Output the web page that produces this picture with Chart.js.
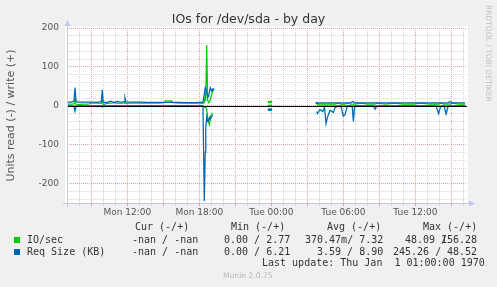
<!DOCTYPE html>
<html>
<head>
<meta charset="utf-8">
<script src="https://cdn.jsdelivr.net/npm/chart.js@4.4.0/dist/chart.umd.min.js"></script>
<style>
  body { margin: 0; background: #f0f0f0; }
  #wrap { position: relative; width: 497px; height: 287px; overflow: hidden; }
  #chart { position: absolute; left: 0; top: 0; }
  .title { position: absolute; left: 0; width: 497px; top: 11px; text-align: center;
           font: 12.5px/15px 'DejaVu Sans', sans-serif; color: #333; }
  .rrd { position: absolute; left: 484px; top: 5px; writing-mode: vertical-rl;
         font: 7.5px/9px 'DejaVu Sans', sans-serif; color: #c0c0c0; white-space: pre; }
  .t { position: absolute; white-space: pre; font: 10px/12px 'DejaVu Sans Mono', monospace; color: #333; }
  .sq { position: absolute; width: 6px; height: 6px; }
  .munin { position: absolute; left: 223px; top: 271px; font: 7.6px/10px 'DejaVu Sans', sans-serif; color: #b8b8b8; }
</style>
</head>
<body>
<div id="wrap">
  <canvas id="chart" width="497" height="287"></canvas>
  <div class="title">IOs for /dev/sda - by day</div>
  <div class="rrd">RRDTOOL / TOBI OETIKER</div>

  <div class="t" style="left:135px;top:221px">Cur (-/+)</div>
  <div class="t" style="left:231px;top:221px">Min (-/+)</div>
  <div class="t" style="left:327px;top:221px">Avg (-/+)</div>
  <div class="t" style="left:423px;top:221px">Max (-/+)</div>

  <div class="sq" style="left:14px;top:237px;background:#00cc00"></div>
  <div class="t" style="left:27px;top:234px">IO/sec</div>
  <div class="t" style="left:132px;top:234px">-nan / -nan</div>
  <div class="t" style="left:224px;top:234px">0.00 / 2.77</div>
  <div class="t" style="left:305px;top:234px">370.47m/ 7.32</div>
  <div class="t" style="left:405px;top:234px">48.09 /</div>
  <div class="t" style="left:441px;top:234px">156.28</div>

  <div class="sq" style="left:14px;top:249px;background:#0066b3"></div>
  <div class="t" style="left:27px;top:246px">Req Size (KB)</div>
  <div class="t" style="left:132px;top:246px">-nan / -nan</div>
  <div class="t" style="left:224px;top:246px">0.00 / 6.21</div>
  <div class="t" style="left:317px;top:246px">3.59 / 8.90</div>
  <div class="t" style="left:393px;top:246px">245.26 /</div>
  <div class="t" style="left:447px;top:246px">48.52</div>

  <div class="t" style="left:262px;top:257px">Last update: Thu Jan  1 01:00:00 1970</div>
  <div class="munin">Munin 2.0.75</div>
</div>
<script>
// time in hours since Mon 00:00; null rows break the lines
const hours = [
  6.97, 7.3, 7.55, 7.64, 7.72, 7.85, 8.2, 8.72, 9.0, 9.5,
  9.83, 9.91, 9.99, 10.3, 10.6, 10.9, 11.2, 11.5, 11.72, 11.8,
  11.88, 12.3, 13.0, 13.5, 14.0, 14.6, 15.1, 15.2, 15.7, 15.8,
  16.3, 17.0, 17.6, 18.0, 18.3, 18.41, 18.49, 18.53, 18.61, 18.69,
  18.76, 18.84, 18.91, 19.01, 19.14, 19.3,
  23.8, 23.97, 24.1,
  27.78, 27.83, 28.05, 28.28, 28.43, 28.55, 28.67, 28.75, 28.89, 29.03,
  29.16, 29.3, 29.58, 29.8, 29.99, 30.14, 30.33, 30.64, 30.75, 30.83,
  30.91, 30.97, 31.5, 32.0, 32.47, 32.64, 32.8, 33.5, 34.2, 35.0,
  35.8, 36.5, 37.2, 37.72, 37.93, 38.1, 38.39, 38.56, 38.72, 38.9,
  39.05, 39.6, 40.14
];

// IO/sec write (+)
const ioWrite = [
  4.5, 4.5, 5, 18, 3, 2.5, 4, 4, 7, 7,
  6, 12, 3, 6, 7, 8, 6, 7, 7, 8,
  6.5, 7, 7, 7.5, 7, 7, 8, 12.5, 12.5, 8,
  7, 7.5, 7, 6.5, 6, 8, 25, 12, 156, 15,
  8, 10, 15, 28, 41, null,
  9.5, 9.5, null,
  4.5, 4.5, 5, 4, 4.5, 4, 4.5, 5, 4, 4.5,
  4, 4.5, 6.5, 4, 4.5, 4, 6.5, 4, 4.5, 4,
  4.5, 4, 6.5, 4, 4.5, 4, 6.5, 4, 6.5, 4,
  4.5, 6.5, 4, 4.5, 4, 6.5, 4, 4.5, 4, 4.5,
  6.5, 4, 4.5
];

// IO/sec read (-)
const ioRead = [
  0.2, 0.2, 0.3, 1, 0.3, 0.2, 0.2, 0.2, 0.2, 0.2,
  0.2, 0.5, 0.2, 0.2, 0.2, 0.2, 0.2, 0.2, 0.2, 0.2,
  0.2, 0.2, 0.2, 0.2, 0.2, 0.2, 0.2, 0.2, 0.2, 0.2,
  0.2, 0.2, 0.2, 0.2, 0.3, 3, 4, 5, 8, 30,
  42, 49, 30, 22, 19, null,
  0.3, 0.3, null,
  0.3, 0.3, 0.3, 0.3, 0.3, 0.4, 0.3, 0.3, 0.3, 0.3,
  0.3, 0.3, 0.3, 0.3, 0.3, 0.3, 0.3, 0.3, 0.3, 0.3,
  0.3, 0.3, 0.3, 0.3, 0.3, 0.3, 0.3, 0.3, 0.3, 0.3,
  0.3, 0.3, 0.3, 0.3, 0.3, 0.3, 0.3, 0.3, 0.3, 0.3,
  0.3, 0.3, 0.3
];

// Req Size (KB) write (+)
const reqWrite = [
  9.5, 9.5, 12, 47, 14, 9.5, 9.5, 9.5, 9.5, 9,
  11, 41, 10, 8, 12, 8.5, 11, 9, 11, 21,
  10, 9.5, 9.5, 9, 9, 9, 9, 9, 9, 8.5,
  8.5, 8, 8, 8.5, 8.5, 30, 47, 44, 35, 22,
  24, 36, 46, 38, 42, null,
  null, null, null,
  7, 7, 7.5, 7.5, 7.5, 7.5, 7.5, 7.5, 7.5, 7.5,
  7.5, 7.5, 7.5, 7.5, 7.5, 7.5, 7.5, 8, 11, 10,
  8, 7.5, 7.5, 7.5, 7.5, 7.5, 7.5, 7.5, 7.5, 7.5,
  7.5, 7.5, 7.5, 7.5, 7.5, 7.5, 7.5, 7.5, 7.5, 11,
  7.5, 7.5, 7.5
];

// Req Size (KB) read (-)
const reqRead = [
  0, 0, 2, 14, 3, 0, 0, 0, 0, 0,
  0, 3, 0, 0, 0, 0, 0, 0, 0, 0,
  0, 0, 0, 0, 0, 0, 0, 0, 0, 0,
  0, 0, 0, 0, 0, 245, 120, 60, 28, 40,
  38, 30, 35, 28, 24, null,
  10, 10, null,
  15, 20, 10, 15, 5, 46, 30, 23, 12, 14,
  17, 5, 0, 1, 27, 23, 0, 0, 5, 40,
  10, 0, 0, 0, 0, 9, 0, 0, 0, 0,
  0, 0, 0, 0, 20, 2, 0, 21, 2, 0,
  0, 0, 0
];

const xMin = 6.97;
const xMax = 40.3;
const xTickHours = [12, 18, 24, 30, 36];
const xTickLabels = ['Mon 12:00', 'Mon 18:00', 'Tue 00:00', 'Tue 06:00', 'Tue 12:00'];
const yMin = -250;
const yMax = 200;
const yTickValues = [-200, -100, 0, 100, 200];

const GREEN = '#00cc00';
const BLUE = '#0066b3';
const MINOR = '#d4d4d4';
const MAJOR = '#e6a0a0';
const AXIS = '#c4c6f2';

function series(vals, sign) {
  return hours.map((h, i) => ({ x: h, y: vals[i] == null ? null : sign * vals[i] }));
}

function range(from, to, step) {
  const out = [];
  for (let v = from; v <= to + 1e-9; v += step) out.push({ value: v });
  return out;
}

// short runs between gaps (a couple of samples) get a dot so they stay visible
function blipRadius(vals) {
  return c => {
    const i = c.dataIndex;
    const shortRun = vals[i] != null && (vals[i - 2] == null || vals[i + 2] == null) &&
      (vals[i - 1] == null || vals[i + 1] == null) && i > 0 && i < vals.length - 1;
    return shortRun && vals[i - 1] == null !== (vals[i + 1] == null) && (vals[i - 2] == null || vals[i + 2] == null) ? 1.3 : 0;
  };
}

const plotBackground = {
  id: 'plotBackground',
  beforeDraw(chart) {
    const { ctx, chartArea: a } = chart;
    ctx.save();
    ctx.fillStyle = '#ffffff';
    ctx.fillRect(a.left - 2, a.top - 2, a.right - a.left + 3, a.bottom - a.top + 2);
    ctx.restore();
  }
};

const zeroLine = {
  id: 'zeroLine',
  afterDatasetsDraw(chart) {
    const { ctx, chartArea: a, scales } = chart;
    const y = Math.round(scales.y.getPixelForValue(0)) + 0.5;
    ctx.save();
    ctx.strokeStyle = '#000';
    ctx.lineWidth = 1;
    ctx.beginPath();
    ctx.moveTo(a.left, y);
    ctx.lineTo(a.right, y);
    ctx.stroke();
    ctx.restore();
  }
};

const axisArrows = {
  id: 'axisArrows',
  afterDraw(chart) {
    const { ctx, chartArea: a } = chart;
    const x = a.left + 0.5, y = a.bottom + 0.5;
    ctx.save();
    ctx.strokeStyle = AXIS;
    ctx.fillStyle = AXIS;
    ctx.lineWidth = 1;
    ctx.beginPath();
    ctx.moveTo(x, a.bottom + 4);
    ctx.lineTo(x, a.top - 3);
    ctx.moveTo(a.left - 4, y);
    ctx.lineTo(a.right + 3, y);
    ctx.stroke();
    ctx.beginPath();
    ctx.moveTo(x - 3, a.top - 2);
    ctx.lineTo(x + 3, a.top - 2);
    ctx.lineTo(x, a.top - 8);
    ctx.closePath();
    ctx.fill();
    ctx.beginPath();
    ctx.moveTo(a.right + 2, y - 3);
    ctx.lineTo(a.right + 2, y + 3);
    ctx.lineTo(a.right + 8, y);
    ctx.closePath();
    ctx.fill();
    ctx.restore();
  }
};

function lineSet(label, vals, sign, color, order) {
  return {
    label, order,
    data: series(vals, sign),
    borderColor: color,
    backgroundColor: color,
    borderWidth: 1.25,
    pointRadius: blipRadius(vals),
    pointBorderWidth: 0,
    tension: 0,
    spanGaps: false,
    fill: false
  };
}

const ctx = document.getElementById('chart').getContext('2d');
new Chart(ctx, {
  type: 'line',
  data: {
    datasets: [
      lineSet('IO/sec read', ioRead, -1, GREEN, 1),
      lineSet('IO/sec write', ioWrite, 1, GREEN, 1),
      lineSet('Req Size read', reqRead, -1, BLUE, 0),
      lineSet('Req Size write', reqWrite, 1, BLUE, 0)
    ]
  },
  options: {
    responsive: false,
    animation: false,
    events: [],
    layout: { padding: { top: 28, right: 30, left: 0, bottom: 0 } },
    plugins: {
      legend: { display: false },
      tooltip: { enabled: false },
      title: { display: false }
    },
    scales: {
      x: {
        type: 'linear',
        min: xMin,
        max: xMax,
        afterFit(scale) { scale.height = 84; },
        afterBuildTicks(scale) { scale.ticks = range(7, 40, 1); },
        border: { display: false, dash: [1, 1] },
        grid: {
          color: c => (c.tick && c.tick.value % 3 === 0) ? MAJOR : MINOR,
          tickColor: c => (c.tick && c.tick.value % 3 === 0) ? MAJOR : MINOR,
          lineWidth: 1,
          drawTicks: true,
          tickLength: 3
        },
        ticks: {
          autoSkip: false,
          maxRotation: 0,
          padding: 1,
          color: '#555',
          font: { family: 'DejaVu Sans', size: 9 },
          callback: v => {
            const k = xTickHours.indexOf(Math.round(v));
            return (k >= 0 && Math.abs(v - Math.round(v)) < 1e-6) ? xTickLabels[k] : '';
          }
        }
      },
      y: {
        type: 'linear',
        min: yMin,
        max: yMax,
        afterFit(scale) { scale.width = 67; },
        afterBuildTicks(scale) { scale.ticks = range(-240, 200, 20); },
        border: { display: false, dash: [1, 1] },
        grid: {
          color: c => (c.tick && c.tick.value % 100 === 0) ? MAJOR : MINOR,
          lineWidth: 1,
          drawTicks: false
        },
        ticks: {
          autoSkip: false,
          padding: 8,
          color: '#555',
          font: { family: 'DejaVu Sans', size: 9 },
          callback: v => yTickValues.includes(Math.round(v)) && Math.abs(v - Math.round(v)) < 1e-6 ? String(Math.round(v)) : ''
        },
        title: {
          display: true,
          text: 'Units read (-) / write (+)',
          color: '#555',
          font: { family: 'DejaVu Sans', size: 11 },
          padding: { top: 5, bottom: 0 }
        }
      }
    }
  },
  plugins: [plotBackground, zeroLine, axisArrows]
});
</script>
</body>
</html>
